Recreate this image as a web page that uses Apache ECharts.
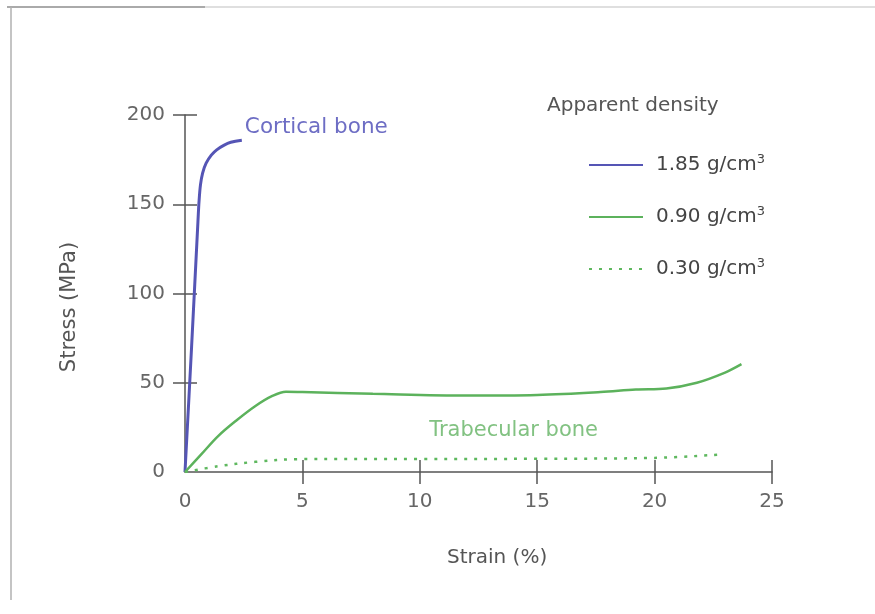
<!DOCTYPE html>
<html>
<head>
<meta charset="utf-8">
<script src="https://cdn.jsdelivr.net/npm/echarts@6/dist/echarts.min.js"></script>
<style>html,body{margin:0;padding:0;background:#fff}#c{width:875px;height:614px}</style>
</head>
<body>
<div id="c"></div>
<script>
// Strain (%) , Stress (MPa)
var cortical = [[0,0],[0.28,70],[0.55,140],[0.6,152],[0.66,161],[0.75,167.5],[0.9,173],[1.12,177.5],[1.35,180.5],[1.65,183],[1.95,184.7],[2.42,185.8]];
var trab090 = [[0,0],[0.7,10],[1.4,20],[2.2,29],[3.0,37],[3.7,42.5],[4.3,45],[5,44.8],[8,43.8],[12,42.8],[15,43.2],[17.7,44.8],[19.2,46.2],[20.5,46.8],[21.8,50],[23,55.7],[23.7,60.4]];
var trab030 = [[0,0],[1.4,3.2],[3,5.7],[4.8,7.2],[10,7.3],[15,7.4],[20,7.9],[22.8,9.8]];
var xTicks = [5,10,15,20,25];
var yTicks = [50,100,150,200];
var seriesNames = ['1.85 g/cm3','0.90 g/cm3','0.30 g/cm3'];

var FONT = 'DejaVu Sans';
var chart = echarts.init(document.getElementById('c'));
function axisX(inside){
  return {type:'value',min:0,max:25,interval:5,position:'bottom',
    axisLine:{show:!inside,lineStyle:{color:'#555',width:1.5}},
    axisTick:{show:true,inside:inside,length:12,customValues:xTicks,lineStyle:{color:'#555',width:1.5}},
    axisLabel:{show:!inside,margin:20,color:'#666',fontSize:20,fontFamily:FONT},
    splitLine:{show:false}};
}
function axisY(inside){
  return {type:'value',min:0,max:200,interval:50,position:'left',
    axisLine:{show:!inside,lineStyle:{color:'#555',width:1.5}},
    axisTick:{show:true,inside:inside,length:12,customValues:yTicks,lineStyle:{color:'#555',width:1.5}},
    axisLabel:{show:!inside,margin:20,color:'#666',fontSize:20,fontFamily:FONT},
    splitLine:{show:false}};
}
chart.setOption({
  backgroundColor:'#fff',
  animation:false,
  grid:{left:185,right:103,top:115,bottom:142,containLabel:false},
  title:{text:'Apparent density',left:547,top:96,padding:0,textStyle:{color:'#555',fontSize:20,fontWeight:'normal',fontFamily:FONT}},
  legend:{orient:'vertical',left:588,top:153,padding:0,itemWidth:54,itemHeight:14,itemGap:28,
    data:seriesNames,
    itemStyle:{opacity:0},
    formatter:function(n){return n.replace(/3$/,'')+'{sup|3}';},
    textStyle:{color:'#444',fontSize:20,fontFamily:FONT,lineHeight:24,padding:[0,0,0,8],
      rich:{sup:{fontSize:13,fontFamily:FONT,color:'#444',verticalAlign:'top',lineHeight:24}}}},
  xAxis:[axisX(false),axisX(true)],
  yAxis:[axisY(false),axisY(true)],
  graphic:[
    {type:'line',shape:{x1:7,y1:7,x2:875,y2:7},style:{stroke:'#d4d4d4',lineWidth:1.5},silent:true},
    {type:'line',shape:{x1:7,y1:7,x2:205,y2:7},style:{stroke:'#999',lineWidth:1.5},silent:true},
    {type:'line',shape:{x1:11,y1:7,x2:11,y2:600},style:{stroke:'#b0b0b0',lineWidth:1.5},silent:true},
    {type:'text',left:447,top:548,style:{text:'Strain (%)',fill:'#555',fontSize:20,fontFamily:FONT}},
    {type:'text',x:70,y:307,rotation:Math.PI/2,style:{text:'Stress (MPa)',fill:'#555',fontSize:21,fontFamily:FONT,align:'center',verticalAlign:'middle'}}
  ],
  series:[
    {name:seriesNames[0],type:'line',data:cortical,symbol:'none',smooth:0.35,
      lineStyle:{color:'#5555b5',width:3},itemStyle:{color:'#5555b5'},z:3,
      markPoint:{symbol:'circle',symbolSize:0,silent:true,data:[{coord:[2.55,193],label:{show:true,position:'right',distance:0,formatter:'Cortical bone',color:'#6d6dc4',fontSize:21.5,fontFamily:FONT}}]}},
    {name:seriesNames[1],type:'line',data:trab090,symbol:'none',smooth:0.35,
      lineStyle:{color:'#5cb25c',width:2.5},itemStyle:{color:'#5cb25c'},
      markPoint:{symbol:'circle',symbolSize:0,silent:true,data:[{coord:[10.4,23.5],label:{show:true,position:'right',distance:0,formatter:'Trabecular bone',color:'#82c282',fontSize:21,fontFamily:FONT}}]}},
    {name:seriesNames[2],type:'line',data:trab030,symbol:'none',smooth:0.35,
      lineStyle:{color:'#5fb85f',width:2.5,type:[3,7]},itemStyle:{color:'#5fb85f'}}
  ]
});
</script>
</body>
</html>
